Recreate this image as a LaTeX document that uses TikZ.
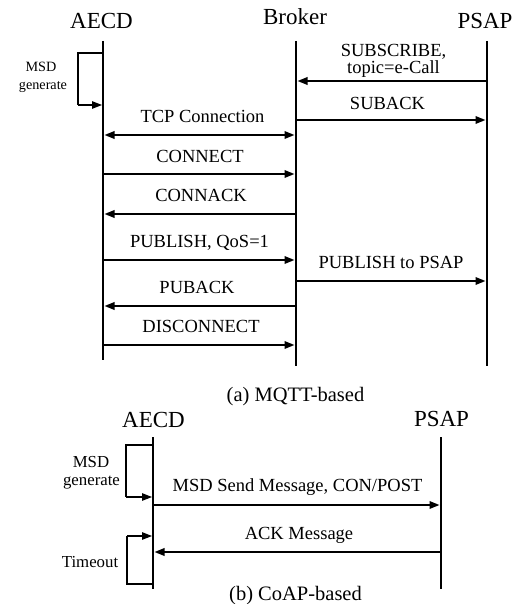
\documentclass[tikz,border=0pt]{standalone}
\usepackage{fontspec}
\setmainfont{Liberation Serif}
\usetikzlibrary{arrows.meta}
\begin{document}
\begin{tikzpicture}[x=1pt,y=-1pt,
  life/.style={line width=2.8pt},
  tip/.style={},
  msg/.style={line width=1.8pt,-{Triangle[length=10pt,width=7.5pt]}},
  dmsg/.style={line width=1.8pt,{Triangle[length=10pt,width=7.5pt]}-{Triangle[length=10pt,width=7.5pt]}},
  loopline/.style={line width=1.1pt},
  loopmsg/.style={line width=1.1pt,-{Triangle[length=10pt,width=7.5pt]}},
  head/.style={font=\fontsize{23}{25}\selectfont,inner sep=0pt,anchor=base},
  lbl/.style={font=\fontsize{18.5}{16}\selectfont,inner sep=0pt,anchor=base},
  sidea/.style={font=\fontsize{14.2}{16}\selectfont,inner sep=0pt,anchor=base},
  sideb/.style={font=\fontsize{16.8}{18}\selectfont,inner sep=0pt,anchor=base},
  captext/.style={font=\fontsize{20.5}{22}\selectfont,inner sep=0pt,anchor=base}]
\useasboundingbox (0,0) rectangle (525,604);
% ---------- (a) ----------
\node[head] (aecd) at (101.5,29) {AECD};
\node[head] (broker) at (295,25) {Broker};
\node[head] (psap) at (485,29) {PSAP};
\coordinate (aT) at (103,41); \coordinate (aB) at (103,360);
\coordinate (bT) at (296,41); \coordinate (bB) at (296,366);
\coordinate (pT) at (487,41); \coordinate (pB) at (487,366);
\draw[life] (aT) -- (aB);
\draw[life] (bT) -- (bB);
\draw[life] (pT) -- (pB);
% MSD generate loop
\coordinate (g1) at (103,53); \coordinate (g2) at (78,53);
\coordinate (g3) at (78,105); \coordinate (g4) at (102,105);
\draw[loopline] (g1) -- (g2) -- (g3);
\draw[loopmsg] (g3) -- (g4);
\node[sidea] (msd) at (41,72) {MSD};
\node[sidea] (gen) at (43,90) {generate};
% messages
\coordinate (s1) at (487,81); \coordinate (s2) at (297.5,81);
\draw[msg] (s1) -- (s2);
\node[lbl] (subscribe) at (393.5,57) {SUBSCRIBE,};
\node[lbl] (topic) at (393.5,74) {topic=e-Call};
\coordinate (sa1) at (296,120); \coordinate (sa2) at (485.5,120);
\draw[msg] (sa1) -- (sa2);
\node[lbl] (suback) at (387.5,110) {SUBACK};
\coordinate (t1) at (104.5,135); \coordinate (t2) at (294.5,135);
\draw[dmsg] (t1) -- (t2);
\node[lbl] (tcp) at (202.5,123) {TCP Connection};
\coordinate (c1) at (103,174); \coordinate (c2) at (294.5,174);
\draw[msg] (c1) -- (c2);
\node[lbl] (connect) at (200,162) {CONNECT};
\coordinate (ca1) at (296,214); \coordinate (ca2) at (104.5,214);
\draw[msg] (ca1) -- (ca2);
\node[lbl] (connack) at (201,201) {CONNACK};
\coordinate (p1) at (103,260); \coordinate (p2) at (294.5,260);
\draw[msg] (p1) -- (p2);
\node[lbl] (publish) at (199.5,247) {PUBLISH, QoS=1};
\coordinate (pp1) at (296,281); \coordinate (pp2) at (485.5,281);
\draw[msg] (pp1) -- (pp2);
\node[lbl] (pubpsap) at (391,268) {PUBLISH to PSAP};
\coordinate (pa1) at (296,306); \coordinate (pa2) at (104.5,306);
\draw[msg] (pa1) -- (pa2);
\node[lbl] (puback) at (197,293) {PUBACK};
\coordinate (d1) at (103,345); \coordinate (d2) at (294.5,345);
\draw[msg] (d1) -- (d2);
\node[lbl] (disconnect) at (201,332) {DISCONNECT};
\node[captext] (capa) at (295.5,401) {(a) MQTT-based};
% ---------- (b) ----------
\node[head] (aecd2) at (153.5,427) {AECD};
\node[head] (psap2) at (441.5,426) {PSAP};
\coordinate (a2T) at (153,437); \coordinate (a2B) at (153,589);
\coordinate (p2T) at (441,437); \coordinate (p2B) at (441,589);
\draw[life] (a2T) -- (a2B);
\draw[life] (p2T) -- (p2B);
\coordinate (h1) at (153,445); \coordinate (h2) at (126,445);
\coordinate (h3) at (126,497); \coordinate (h4) at (152,497);
\draw[loopline] (h1) -- (h2) -- (h3);
\draw[loopmsg] (h3) -- (h4);
\node[sideb] (msd2) at (91,467) {MSD};
\node[sideb] (gen2) at (91.5,485) {generate};
\coordinate (m1) at (153,505); \coordinate (m2) at (439.5,505);
\draw[msg] (m1) -- (m2);
\node[lbl] (msdsend) at (297.5,491) {MSD Send Message, CON/POST};
\coordinate (k1) at (441,552); \coordinate (k2) at (154.5,552);
\draw[msg] (k1) -- (k2);
\node[lbl] (ack) at (299,539) {ACK Message};
\coordinate (o1) at (153,584); \coordinate (o2) at (127,584);
\coordinate (o3) at (127,536); \coordinate (o4) at (152,536);
\draw[loopline] (o1) -- (o2) -- (o3);
\draw[loopmsg] (o3) -- (o4);
\node[sideb] (timeout) at (90,567) {Timeout};
\node[captext] (capb) at (295.5,600) {(b) CoAP-based};
\end{tikzpicture}
\end{document}
